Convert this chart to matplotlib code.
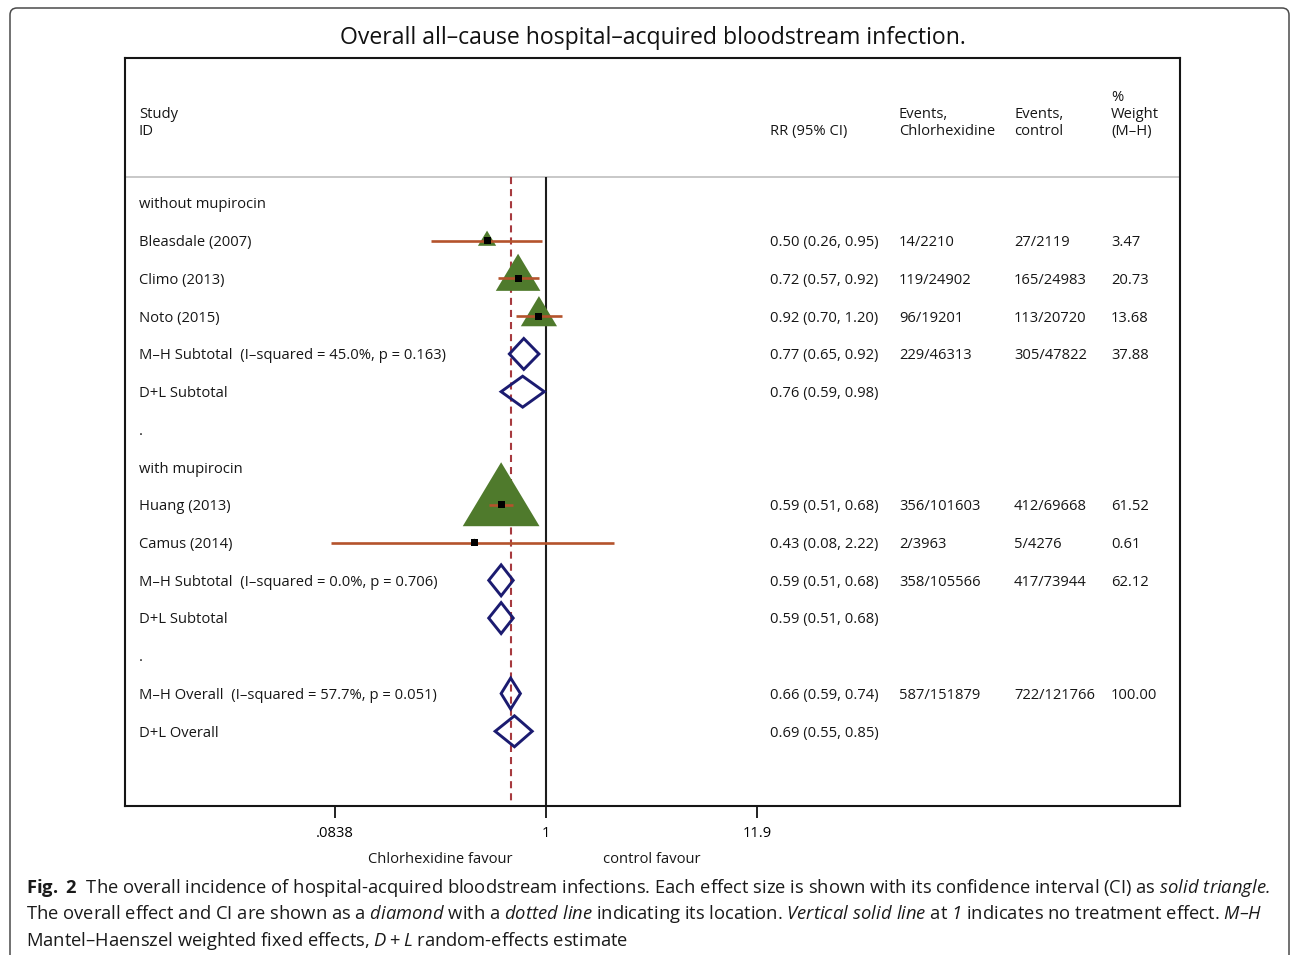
import numpy as np
import matplotlib
matplotlib.use("Agg")
import matplotlib.pyplot as plt
from matplotlib.patches import Polygon, FancyBboxPatch
import matplotlib.transforms as mtransforms
from matplotlib.ticker import NullLocator

FONT = "Open Sans"
plt.rcParams["font.family"] = [FONT, "DejaVu Sans"]
plt.rcParams["mathtext.fontset"] = "custom"
plt.rcParams["mathtext.rm"] = FONT
plt.rcParams["mathtext.it"] = FONT + ":italic"
plt.rcParams["mathtext.sf"] = FONT + ":italic"
plt.rcParams["mathtext.bf"] = FONT + ":bold"

# ---------------- data ----------------
title = "Overall all–cause hospital–acquired bloodstream infection."

row_labels = [
    "without mupirocin",
    "Bleasdale (2007)",
    "Climo (2013)",
    "Noto (2015)",
    "M–H Subtotal  (I–squared = 45.0%, p = 0.163)",
    "D+L Subtotal",
    ".",
    "with mupirocin",
    "Huang (2013)",
    "Camus (2014)",
    "M–H Subtotal  (I–squared = 0.0%, p = 0.706)",
    "D+L Subtotal",
    ".",
    "M–H Overall  (I–squared = 57.7%, p = 0.051)",
    "D+L Overall",
]
row_kind = ["group", "study", "study", "study", "pooled", "pooled", "sep",
            "group", "study", "study", "pooled", "pooled", "sep",
            "pooled", "pooled"]

nan = np.nan
rr = [nan, 0.50, 0.72, 0.92, 0.77, 0.76, nan, nan, 0.59, 0.43, 0.59, 0.59, nan, 0.66, 0.69]
ci_low = [nan, 0.26, 0.57, 0.70, 0.65, 0.59, nan, nan, 0.51, 0.08, 0.51, 0.51, nan, 0.59, 0.55]
ci_high = [nan, 0.95, 0.92, 1.20, 0.92, 0.98, nan, nan, 0.68, 2.22, 0.68, 0.68, nan, 0.74, 0.85]

events_chx = ["", "14/2210", "119/24902", "96/19201", "229/46313", "", "", "",
              "356/101603", "2/3963", "358/105566", "", "", "587/151879", ""]
events_ctl = ["", "27/2119", "165/24983", "113/20720", "305/47822", "", "", "",
              "412/69668", "5/4276", "417/73944", "", "", "722/121766", ""]
weights = ["", "3.47", "20.73", "13.68", "37.88", "", "", "",
           "61.52", "0.61", "62.12", "", "", "100.00", ""]

headers = [["Study", "ID"], ["RR (95% CI)"], ["Events,", "Chlorhexidine"],
           ["Events,", "control"], ["%", "Weight", "(M–H)"]]

xticks = [0.0838, 1, 11.9]
xtick_labels = [".0838", "1", "11.9"]
favour_labels = ["Chlorhexidine favour", "control favour"]
overall_index = 13

caption_lines = [
    r"$\mathbf{Fig.\ 2}$  The overall incidence of hospital-acquired bloodstream infections. "
    r"Each effect size is shown with its confidence interval (CI) as $\mathsf{solid\ triangle.}$",
    r"The overall effect and CI are shown as a $\mathsf{diamond}$ with a $\mathsf{dotted\ line}$ "
    r"indicating its location. $\mathsf{Vertical\ solid\ line}$ at $\mathsf{1}$ indicates no "
    r"treatment effect. $\mathsf{M–H}$",
    r"Mantel–Haenszel weighted fixed effects, $D+L$ random-effects estimate",
]

# ---------------- layout ----------------
W, H = 1290, 955
fig = plt.figure(figsize=(W / 100, H / 100), dpi=100)
fig.patch.set_facecolor("white")


def fx(px):
    return px / W


def fy(py):
    return 1 - py / H


# outer rounded frame (display pixel coordinates)
frame = FancyBboxPatch((10, -40), 1279, (H - 8) + 40,
                       boxstyle="round,pad=0,rounding_size=7",
                       transform=mtransforms.IdentityTransform(),
                       fill=False, ec="#4a4a4a", lw=1.1)
fig.patches.append(frame)

fig.text(fx(653), fy(38.5), title, ha="center", va="center", fontsize=16.6, color="#111")

ax = fig.add_axes([fx(125), fy(806), fx(1180) - fx(125), (806 - 58) / H])
ax.set_xscale("log")
ax.set_xlim(0.00710, 1720)
Y_BOTTOM, Y_TOP = 15.98, -3.843
ax.set_ylim(Y_BOTTOM, Y_TOP)
ax.set_yticks([])
ax.set_xticks(xticks)
ax.set_xticklabels(xtick_labels)
ax.xaxis.set_minor_locator(NullLocator())
FS = 10.6
ax.tick_params(axis="x", direction="out", length=8.5, width=1.3, pad=6,
               labelsize=FS, color="#111")
for sp in ax.spines.values():
    sp.set_linewidth(1.5)
    sp.set_color("#151515")

HEADER_ROW = -0.689
ax.axhline(HEADER_ROW, color="#c4c4c4", lw=1.3, zorder=1)

# reference lines
ax.vlines(1, HEADER_ROW, Y_BOTTOM, colors="#1d1d1d", lw=1.5, zorder=1)
ax.vlines(rr[overall_index], HEADER_ROW, Y_BOTTOM, colors="#a73a3f", lw=1.5,
          linestyles=[(0, (3.4, 2.4))], zorder=1)

rows = np.arange(len(row_labels))
kind = np.array(row_kind)
rr_a = np.array(rr)
lo_a = np.array(ci_low)
hi_a = np.array(ci_high)

# study markers
is_study = kind == "study"
w_num = np.array([float(w) if w else 0.0 for w in weights])
tri = [(0, 2 / 3), (-0.6, -1 / 3), (0.6, -1 / 3), (0, 2 / 3)]
ax.scatter(rr_a[is_study], rows[is_study], s=61.3 * w_num[is_study], marker=tri,
           color="#4f7a2c", edgecolors="none", zorder=2)
ax.hlines(rows[is_study], lo_a[is_study], hi_a[is_study], colors="#b4532c",
          lw=1.9, zorder=3)
ax.scatter(rr_a[is_study], rows[is_study], s=26, marker="s", color="black",
           edgecolors="none", zorder=4)

# pooled diamonds
HALF = 0.41
for r in rows[kind == "pooled"]:
    poly = Polygon([(lo_a[r], r), (rr_a[r], r - HALF), (hi_a[r], r), (rr_a[r], r + HALF)],
                   closed=True, fill=False, ec="#1b1b70", lw=2.1, zorder=3,
                   joinstyle="miter")
    ax.add_patch(poly)

# text columns
trans = mtransforms.blended_transform_factory(ax.transAxes, ax.transData)
col_x = [0.01327, 0.6114, 0.7336, 0.8427, 0.9346]
TXT = "#161616"
DY = 0.05
for r in rows:
    y = r + DY
    ax.text(col_x[0], y, row_labels[r], transform=trans, ha="left", va="center",
            fontsize=FS, color=TXT)
    if not np.isnan(rr_a[r]):
        ax.text(col_x[1], y, f"{rr_a[r]:.2f} ({lo_a[r]:.2f}, {hi_a[r]:.2f})",
                transform=trans, ha="left", va="center", fontsize=FS, color=TXT)
    ax.text(col_x[2], y, events_chx[r], transform=trans, ha="left", va="center",
            fontsize=FS, color=TXT)
    ax.text(col_x[3], y, events_ctl[r], transform=trans, ha="left", va="center",
            fontsize=FS, color=TXT)
    ax.text(col_x[4], y, weights[r], transform=trans, ha="left", va="center",
            fontsize=FS, color=TXT)

LINE_STEP = 0.4506
HEAD_BASE = -1.935 + DY
for cx, lines in zip(col_x, headers):
    for k, line in enumerate(reversed(lines)):
        ax.text(cx, HEAD_BASE - k * LINE_STEP, line, transform=trans, ha="left",
                va="center", fontsize=FS, color=TXT)

# favour labels at geometric midpoints
ftrans = mtransforms.blended_transform_factory(ax.transData, fig.transFigure)
for tick, lab in zip([xticks[0], xticks[2]], favour_labels):
    ax.text(np.sqrt(tick * xticks[1]), fy(859), lab, transform=ftrans,
            ha="center", va="center", fontsize=FS, color=TXT)

# caption
for i, line in enumerate(caption_lines):
    fig.text(fx(26), fy(887.5 + i * 26.5), line, ha="left", va="center",
             fontsize=13.2, color="#1a1a1a")

fig.savefig("out.png", dpi=100, facecolor="white")
